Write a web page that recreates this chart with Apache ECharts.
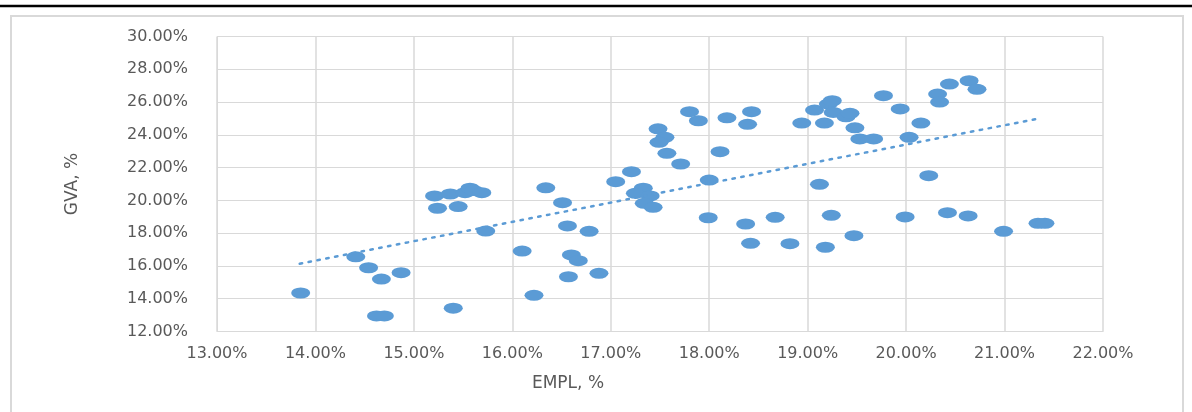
<!DOCTYPE html>
<html>
<head>
<meta charset="utf-8">
<script src="https://cdn.jsdelivr.net/npm/echarts@6/dist/echarts.min.js"></script>
<style>
html,body{margin:0;padding:0;background:#fff;}
#chart{width:1192px;height:412px;}
</style>
</head>
<body>
<div id="chart"></div>
<script>
// EMPL, % (x) and GVA, % (y)
const empl = [13.85,14.41,14.54,14.67,14.87,14.62,14.70,15.21,15.37,15.52,15.57,15.61,15.69,15.24,15.45,15.73,15.40,16.10,16.22,16.34,16.51,16.56,16.78,16.60,16.67,16.57,16.88,17.05,17.21,17.33,17.25,17.40,17.34,17.43,17.48,17.55,17.49,17.57,17.71,17.80,17.89,18.18,18.43,18.39,18.11,18.00,17.99,18.37,18.42,18.67,18.82,18.94,19.07,19.17,19.21,19.25,19.26,19.39,19.43,19.48,19.53,19.67,19.77,19.94,20.03,20.15,20.23,20.32,20.34,20.44,20.64,20.72,19.12,19.24,19.18,19.47,19.99,20.42,20.63,20.99,21.34,21.41];
const gva  = [14.35,16.56,15.89,15.20,15.59,12.95,12.95,20.27,20.39,20.47,20.74,20.60,20.47,19.52,19.62,18.13,13.42,16.91,14.21,20.77,19.86,18.44,18.11,16.67,16.32,15.34,15.55,21.14,21.75,20.74,20.43,20.27,19.82,19.58,24.37,23.85,23.54,22.87,22.22,25.41,24.86,25.04,25.41,24.64,22.97,21.24,18.94,18.56,17.38,18.97,17.36,24.72,25.51,24.72,25.88,26.08,25.37,25.10,25.31,24.43,23.75,23.75,26.39,25.58,23.85,24.72,21.51,26.49,26.00,27.10,27.30,26.78,20.98,19.09,17.14,17.85,18.99,19.25,19.05,18.11,18.60,18.60];
// Linear trend line endpoints
const trendX = [13.84, 21.35];
const trendY = [16.14, 25.00];
// Axis settings
const xTicks = {min: 13, max: 22, step: 1};
const yTicks = {min: 12, max: 30, step: 2};
const xName = 'EMPL, %';
const yName = 'GVA, %';

const pts = empl.map((x, i) => [x, gva[i]]);
const trend = trendX.map((x, i) => [x, trendY[i]]);
const fmt = v => v.toFixed(2) + '%';
const labelColor = '#595959';
const font = 'DejaVu Sans';

const chart = echarts.init(document.getElementById('chart'));
chart.setOption({
  animation: false,
  backgroundColor: '#fff',
  graphic: [
    {type: 'line', shape: {x1: 0, y1: 6, x2: 1192, y2: 6}, style: {stroke: '#000', lineWidth: 2.5}},
    {type: 'rect', shape: {x: 11, y: 16, width: 1172, height: 410}, style: {fill: 'none', stroke: '#d9d9d9', lineWidth: 2}}
  ],
  grid: {left: 217, right: 89, top: 36.5, bottom: 80.5},
  xAxis: {
    type: 'value', min: xTicks.min, max: xTicks.max, interval: xTicks.step,
    name: xName, nameLocation: 'middle', nameGap: 44,
    nameTextStyle: {color: labelColor, fontSize: 17, fontFamily: font, padding: [0, 184, 0, 0]},
    axisLine: {show: true, lineStyle: {color: '#d9d9d9', width: 1}},
    axisTick: {show: false},
    axisLabel: {color: labelColor, fontSize: 16, fontFamily: font, margin: 14, formatter: fmt},
    splitLine: {show: true, lineStyle: {color: '#d9d9d9', width: 1.5}}
  },
  yAxis: {
    type: 'value', min: yTicks.min, max: yTicks.max, interval: yTicks.step,
    name: yName, nameLocation: 'middle', nameGap: 136,
    nameTextStyle: {color: labelColor, fontSize: 17, fontFamily: font},
    axisLine: {show: true, lineStyle: {color: '#d9d9d9', width: 1}},
    axisTick: {show: false},
    axisLabel: {color: labelColor, fontSize: 16, fontFamily: font, margin: 29, formatter: fmt},
    splitLine: {show: true, lineStyle: {color: '#d9d9d9', width: 1}}
  },
  series: [
    {
      type: 'scatter', data: pts, symbol: 'circle', symbolSize: [19, 11],
      itemStyle: {color: '#5b9bd5', opacity: 1}
    },
    {
      type: 'line', data: trend, showSymbol: false, symbol: 'none',
      lineStyle: {color: '#5b9bd5', width: 2.5, type: [2.5, 6.5], cap: 'round'},
      z: 3
    }
  ]
});
</script>
</body>
</html>
